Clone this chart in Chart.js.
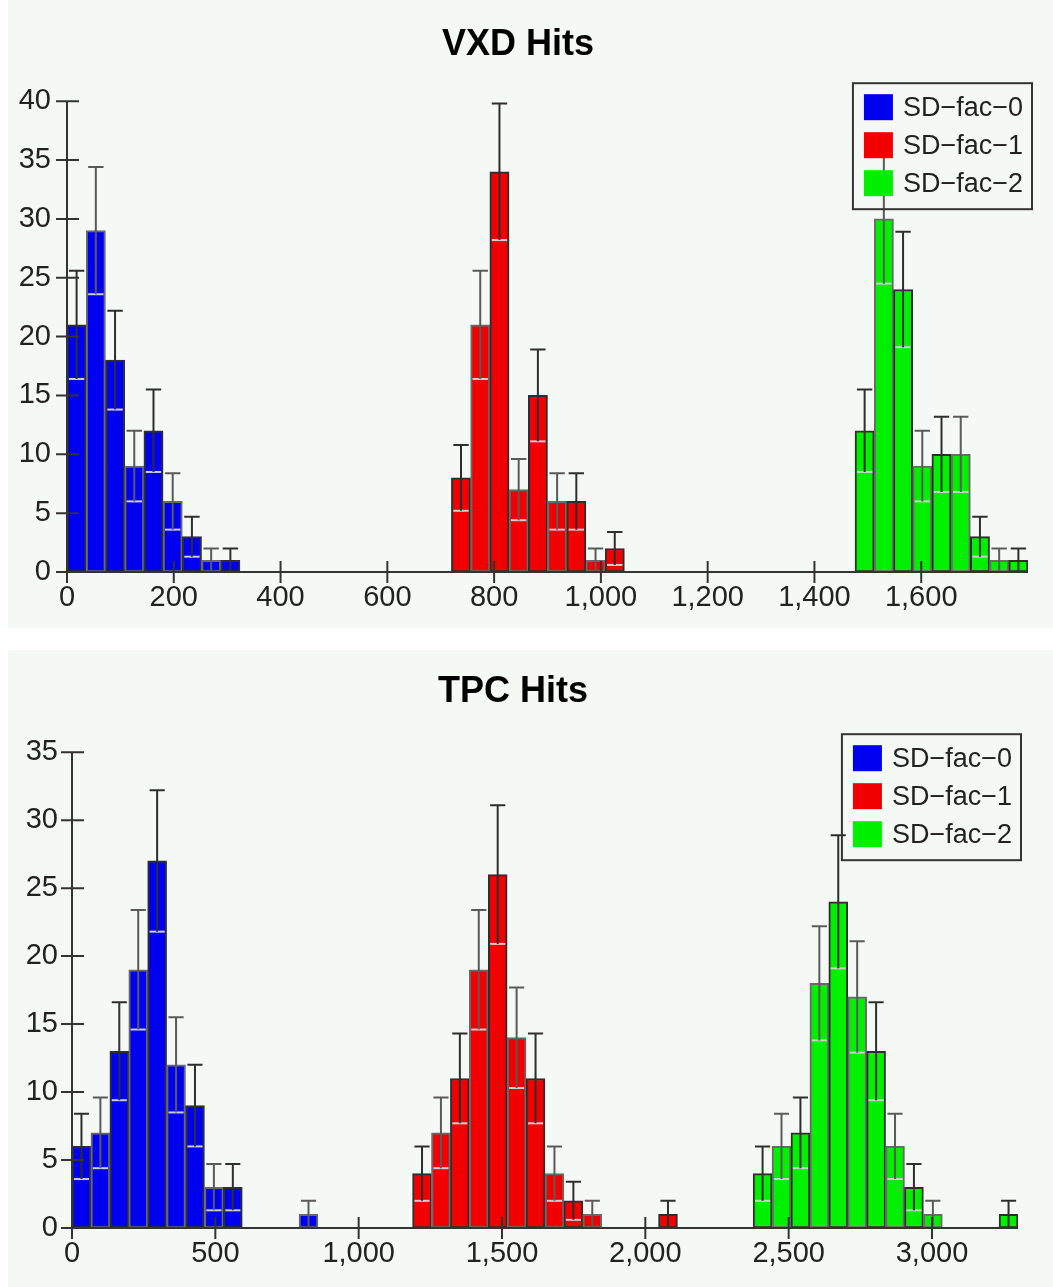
<!DOCTYPE html>
<html>
<head>
<meta charset="utf-8">
<script src="https://cdn.jsdelivr.net/npm/chart.js@4.4.1/dist/chart.umd.min.js"></script>
<style>
  body { margin: 0; background: #ffffff; }
  .panel { position: absolute; left: 8px; width: 1045px; background: #f5f9f6; }
</style>
</head>
<body>
<div class="panel" style="top:0;height:628px"><canvas id="vxd"></canvas></div>
<div class="panel" style="top:650px;height:637px"><canvas id="tpc"></canvas></div>
<script>
var seriesNames = ['SD\u2212fac\u22120', 'SD\u2212fac\u22121', 'SD\u2212fac\u22122'];
var seriesColors = ['#0000f0', '#f00000', '#00f000'];

// VXD hits: bin lower edges, counts, error bar half-heights
var vxdBinWidth = 36;
var vxdFac0Edges = [0, 36, 72, 108, 144, 180, 216, 252, 288];
var vxdFac0Counts = [21, 29, 18, 9, 12, 6, 3, 1, 1];
var vxdFac0Errors = [4.6, 5.4, 4.2, 3.0, 3.5, 2.4, 1.7, 1.0, 1.0];
var vxdFac1Edges = [720, 756, 792, 828, 864, 900, 936, 972, 1008];
var vxdFac1Counts = [8, 21, 34, 7, 15, 6, 6, 1, 2];
var vxdFac1Errors = [2.8, 4.6, 5.8, 2.6, 3.9, 2.4, 2.4, 1.0, 1.4];
var vxdFac2Edges = [1476, 1512, 1548, 1584, 1620, 1656, 1692, 1728, 1764];
var vxdFac2Counts = [12, 30, 24, 9, 10, 10, 3, 1, 1];
var vxdFac2Errors = [3.5, 5.5, 4.9, 3.0, 3.2, 3.2, 1.7, 1.0, 1.0];

// TPC hits
var tpcBinWidth = 66;
var tpcFac0Edges = [0, 66, 132, 198, 264, 330, 396, 462, 528, 792];
var tpcFac0Counts = [6, 7, 13, 19, 27, 12, 9, 3, 3, 1];
var tpcFac0Errors = [2.4, 2.6, 3.6, 4.4, 5.2, 3.5, 3.0, 1.7, 1.7, 1.0];
var tpcFac1Edges = [1188, 1254, 1320, 1386, 1452, 1518, 1584, 1650, 1716, 1782, 2046];
var tpcFac1Counts = [4, 7, 11, 19, 26, 14, 11, 4, 2, 1, 1];
var tpcFac1Errors = [2.0, 2.6, 3.3, 4.4, 5.1, 3.7, 3.3, 2.0, 1.4, 1.0, 1.0];
var tpcFac2Edges = [2376, 2442, 2508, 2574, 2640, 2706, 2772, 2838, 2904, 2970, 3234];
var tpcFac2Counts = [4, 6, 7, 18, 24, 17, 13, 6, 3, 1, 1];
var tpcFac2Errors = [2.0, 2.4, 2.6, 4.2, 4.9, 4.1, 3.6, 2.4, 1.7, 1.0, 1.0];

var vxdXTicks = [0, 200, 400, 600, 800, 1000, 1200, 1400, 1600];
var tpcXTicks = [0, 500, 1000, 1500, 2000, 2500, 3000];

var tickFont = { family: 'Liberation Sans', size: 29 };

function makeDataset(i, edges, counts, errors, width) {
    return {
        label: seriesNames[i],
        data: edges.map(function (e, j) { return { x: e + width / 2, y: counts[j] }; }),
        errors: errors,
        backgroundColor: seriesColors[i],
        borderColor: function (c) { return (c.dataIndex % 2) ? '#6a6a6a' : '#2e2e2e'; },
        borderWidth: 2,
        borderSkipped: false,
        grouped: false,
        barPercentage: 1,
        categoryPercentage: 1
    };
}

// error bars: dark line + upper cap, light lower cap
var errorBars = {
    id: 'errorBars',
    afterDatasetsDraw: function (chart) {
        var ctx = chart.ctx, y = chart.scales.y;
        ctx.save();
        ctx.lineWidth = 2;
        chart.data.datasets.forEach(function (ds, i) {
            var meta = chart.getDatasetMeta(i);
            meta.data.forEach(function (bar, j) {
                var v = ds.data[j].y, e = ds.errors[j];
                var top = y.getPixelForValue(v + e);
                var bot = y.getPixelForValue(Math.max(0, v - e));
                var half = bar.width * 0.4;
                ctx.strokeStyle = '#cfcfcf';
                ctx.beginPath();
                ctx.moveTo(bar.x - half, bot); ctx.lineTo(bar.x + half, bot);
                ctx.stroke();
                ctx.strokeStyle = (j % 2) ? '#5a5a5a' : '#2e2e2e';
                ctx.beginPath();
                ctx.moveTo(bar.x, bot); ctx.lineTo(bar.x, top);
                ctx.moveTo(bar.x - half, top); ctx.lineTo(bar.x + half, top);
                ctx.stroke();
            });
        });
        ctx.restore();
    }
};

// axis lines with tick marks crossing them
var crossAxes = {
    id: 'crossAxes',
    afterDatasetsDraw: function (chart) {
        var ctx = chart.ctx, a = chart.chartArea;
        var xs = chart.scales.x, ys = chart.scales.y;
        ctx.save();
        ctx.strokeStyle = '#333';
        ctx.lineWidth = 2;
        ctx.beginPath();
        ctx.moveTo(a.left, a.bottom); ctx.lineTo(a.right, a.bottom);
        ctx.moveTo(a.left, a.top); ctx.lineTo(a.left, a.bottom);
        xs.ticks.forEach(function (t) {
            var px = xs.getPixelForValue(t.value);
            ctx.moveTo(px, a.bottom - 11); ctx.lineTo(px, a.bottom + 11);
        });
        ys.ticks.forEach(function (t) {
            var py = ys.getPixelForValue(t.value);
            ctx.moveTo(a.left - 11, py); ctx.lineTo(a.left + 12, py);
        });
        ctx.stroke();
        ctx.restore();
    }
};

// boxed legend inside the plot area, top right
var boxLegend = {
    id: 'boxLegend',
    afterDraw: function (chart, args, opts) {
        var ctx = chart.ctx, a = chart.chartArea;
        ctx.save();
        ctx.font = '27px "Liberation Sans"';
        var tw = 0;
        chart.data.datasets.forEach(function (ds) { tw = Math.max(tw, ctx.measureText(ds.label).width); });
        var w = 11 + 29 + 10 + tw + 9, h = 126;
        var right = a.right + opts.dx, top = a.top + opts.dy, left = right - w;
        ctx.strokeStyle = '#333';
        ctx.lineWidth = 2;
        ctx.strokeRect(left, top, w, h);
        ctx.textBaseline = 'middle';
        chart.data.datasets.forEach(function (ds, i) {
            var cy = top + 24 + i * 38;
            ctx.fillStyle = ds.backgroundColor;
            ctx.fillRect(left + 11, cy - 13, 29, 26);
            ctx.fillStyle = '#222';
            ctx.fillText(ds.label, left + 50, cy + 1);
        });
        ctx.restore();
    }
};

function makeHistChart(id, title, datasets, xMax, xStep, xTicks, yMax, lay) {
    return new Chart(document.getElementById(id), {
        type: 'bar',
        data: { datasets: datasets },
        options: {
            responsive: true,
            maintainAspectRatio: false,
            animation: false,
            layout: { padding: { left: 0, right: lay.padRight, top: 0, bottom: 0 } },
            plugins: {
                legend: { display: false },
                tooltip: { enabled: false },
                title: {
                    display: true,
                    text: title,
                    color: '#000',
                    font: { family: 'Liberation Sans', size: 36, weight: 'bold' },
                    padding: { top: lay.titleTop, bottom: lay.titleBottom }
                },
                boxLegend: { dx: lay.legendDx, dy: -18 }
            },
            scales: {
                x: {
                    type: 'linear',
                    offset: false,
                    min: 0,
                    max: xMax,
                    grid: { display: false, drawTicks: false },
                    border: { display: false },
                    afterBuildTicks: function (s) {
                        s.ticks = xTicks.map(function (v) { return { value: v }; });
                    },
                    afterFit: function (s) { s.height = lay.xHeight; },
                    ticks: {
                        stepSize: xStep,
                        padding: 9,
                        color: '#222',
                        font: tickFont,
                        maxRotation: 0,
                        autoSkip: false,
                        callback: function (v) { return Number(v).toLocaleString('en-US'); }
                    }
                },
                y: {
                    min: 0,
                    max: yMax,
                    grid: { display: false, drawTicks: false },
                    border: { display: false },
                    afterFit: function (s) { s.width = lay.yWidth; },
                    ticks: { stepSize: 5, padding: lay.yPad, color: '#222', font: tickFont }
                }
            }
        },
        plugins: [errorBars, crossAxes, boxLegend]
    });
}

makeHistChart('vxd', 'VXD Hits', [
    makeDataset(0, vxdFac0Edges, vxdFac0Counts, vxdFac0Errors, vxdBinWidth),
    makeDataset(1, vxdFac1Edges, vxdFac1Counts, vxdFac1Errors, vxdBinWidth),
    makeDataset(2, vxdFac2Edges, vxdFac2Counts, vxdFac2Errors, vxdBinWidth)
], 1800, 200, vxdXTicks, 40,
   { padRight: 25, titleTop: 23, titleBottom: 35, xHeight: 56, yWidth: 59, yPad: 16, legendDx: 4 });

makeHistChart('tpc', 'TPC Hits', [
    makeDataset(0, tpcFac0Edges, tpcFac0Counts, tpcFac0Errors, tpcBinWidth),
    makeDataset(1, tpcFac1Edges, tpcFac1Counts, tpcFac1Errors, tpcBinWidth),
    makeDataset(2, tpcFac2Edges, tpcFac2Counts, tpcFac2Errors, tpcBinWidth)
], 3300, 500, tpcXTicks, 35,
   { padRight: 35, titleTop: 20, titleBottom: 39, xHeight: 59, yWidth: 64, yPad: 14, legendDx: 3 });
</script>
</body>
</html>
